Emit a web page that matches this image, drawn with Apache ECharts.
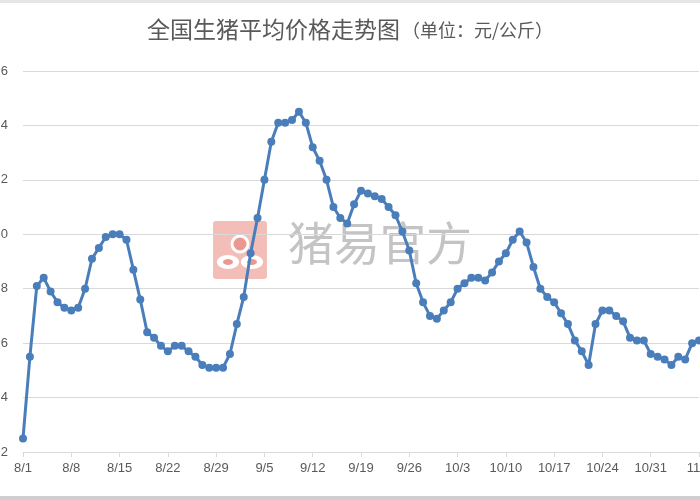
<!DOCTYPE html>
<html>
<head>
<meta charset="utf-8">
<script src="https://cdn.jsdelivr.net/npm/echarts@6/dist/echarts.min.js"></script>
<style>html,body{margin:0;padding:0;background:#fff}#c{width:700px;height:500px}</style>
</head>
<body>
<div id="c"></div>
<script>
var titleMain = '全国生猪平均价格走势图';
var titleUnit = '（单位：元/公斤）';
var watermarkText = '猪易官方';

var categories = [
'8/1','8/2','8/3','8/4','8/5','8/6','8/7','8/8','8/9','8/10','8/11','8/12','8/13','8/14','8/15','8/16',
'8/17','8/18','8/19','8/20','8/21','8/22','8/23','8/24','8/25','8/26','8/27','8/28','8/29','8/30','8/31',
'9/1','9/2','9/3','9/4','9/5','9/6','9/7','9/8','9/9','9/10','9/11','9/12','9/13','9/14','9/15',
'9/16','9/17','9/18','9/19','9/20','9/21','9/22','9/23','9/24','9/25','9/26','9/27','9/28','9/29','9/30',
'10/1','10/2','10/3','10/4','10/5','10/6','10/7','10/8','10/9','10/10','10/11','10/12','10/13','10/14','10/15','10/16',
'10/17','10/18','10/19','10/20','10/21','10/22','10/23','10/24','10/25','10/26','10/27','10/28','10/29','10/30','10/31',
'11/1','11/2','11/3','11/4','11/5','11/6','11/7'
];

var prices = [
13.25,13.55,13.81,13.84,13.79,13.75,13.73,13.72,13.73,13.80,13.91,13.95,13.99,14.00,14.00,13.98,
13.87,13.76,13.64,13.62,13.59,13.57,13.59,13.59,13.57,13.55,13.52,13.51,13.51,13.51,13.56,
13.67,13.77,13.93,14.06,14.20,14.34,14.41,14.41,14.42,14.45,14.41,14.32,14.27,14.20,14.10,
14.06,14.04,14.11,14.16,14.15,14.14,14.13,14.10,14.07,14.01,13.94,13.82,13.75,13.70,13.69,
13.72,13.75,13.80,13.82,13.84,13.84,13.83,13.86,13.90,13.93,13.98,14.01,13.97,13.88,13.80,13.77,
13.75,13.71,13.67,13.61,13.57,13.52,13.67,13.72,13.72,13.70,13.68,13.62,13.61,13.61,13.56,
13.55,13.54,13.52,13.55,13.54,13.60,13.61
];

var yMin = 13.2, yMax = 14.6, yStep = 0.2;

var chart = echarts.init(document.getElementById('c'), null, {renderer: 'canvas'});
chart.setOption({
  backgroundColor: '#ffffff',
  animation: false,
  title: {
    left: 'center',
    top: 13,
    text: '{a|' + titleMain + '}{b|' + titleUnit + '}',
    textStyle: {
      rich: {
        a: {fontSize: 23, color: '#595959', fontFamily: 'Noto Sans CJK SC', fontWeight: 'normal'},
        b: {fontSize: 18, color: '#595959', fontFamily: 'Noto Sans CJK SC', fontWeight: 'normal', padding: [2, 0, 0, 2]}
      }
    }
  },
  graphic: [
    {type: 'rect', z: 0, silent: true, shape: {x: 0, y: 0, width: 700, height: 3}, style: {fill: '#e6e6e6'}},
    {type: 'rect', z: 0, silent: true, shape: {x: 0, y: 496, width: 700, height: 4}, style: {fill: '#cfcfcf'}},
    {type: 'rect', z: 0, silent: true, shape: {x: 213, y: 221, width: 54, height: 58, r: 3}, style: {fill: '#f3bdb8'}},
    {type: 'circle', z: 0, silent: true, shape: {cx: 240, cy: 244, r: 8}, style: {fill: '#eb9891', stroke: '#ffffff', lineWidth: 3}},
    {type: 'ellipse', z: 0, silent: true, shape: {cx: 228, cy: 262, rx: 11, ry: 7}, style: {fill: '#ffffff'}},
    {type: 'ellipse', z: 0, silent: true, shape: {cx: 252, cy: 262, rx: 11, ry: 7}, style: {fill: '#ffffff'}},
    {type: 'ellipse', z: 0, silent: true, shape: {cx: 228, cy: 262, rx: 5, ry: 3}, style: {fill: '#eb9891'}},
    {type: 'ellipse', z: 0, silent: true, shape: {cx: 252, cy: 262, rx: 5, ry: 3}, style: {fill: '#eb9891'}},
    {type: 'text', z: 0, silent: true, left: 288, top: 220,
      style: {text: watermarkText, fontSize: 46, fill: '#c4c4c4', fontFamily: 'Noto Sans CJK SC'}}
  ],
  grid: {left: 23, right: 1, top: 71, bottom: 48, containLabel: false, outerBoundsMode: 'none'},
  xAxis: {
    type: 'category',
    data: categories,
    boundaryGap: false,
    axisLine: {show: true, lineStyle: {color: '#d9d9d9', width: 1}},
    axisTick: {show: true, interval: 6, length: 5, lineStyle: {color: '#d9d9d9'}},
    axisLabel: {interval: 6, color: '#595959', fontSize: 13, margin: 10, fontFamily: 'Liberation Sans', hideOverlap: false},
    splitLine: {show: false}
  },
  yAxis: {
    type: 'value',
    min: yMin, max: yMax, interval: yStep,
    axisLine: {show: false},
    axisTick: {show: false},
    axisLabel: {color: '#595959', fontSize: 13, margin: 15, fontFamily: 'Liberation Sans',
      formatter: function (v) { return v.toFixed(1); }},
    splitLine: {show: true, lineStyle: {color: '#d9d9d9', width: 1}}
  },
  series: [{
    type: 'line',
    data: prices,
    z: 3,
    symbol: 'circle',
    symbolSize: 8,
    showAllSymbol: true,
    lineStyle: {color: '#4a7ebb', width: 3},
    itemStyle: {color: '#4a7ebb'}
  }]
});
</script>
</body>
</html>
